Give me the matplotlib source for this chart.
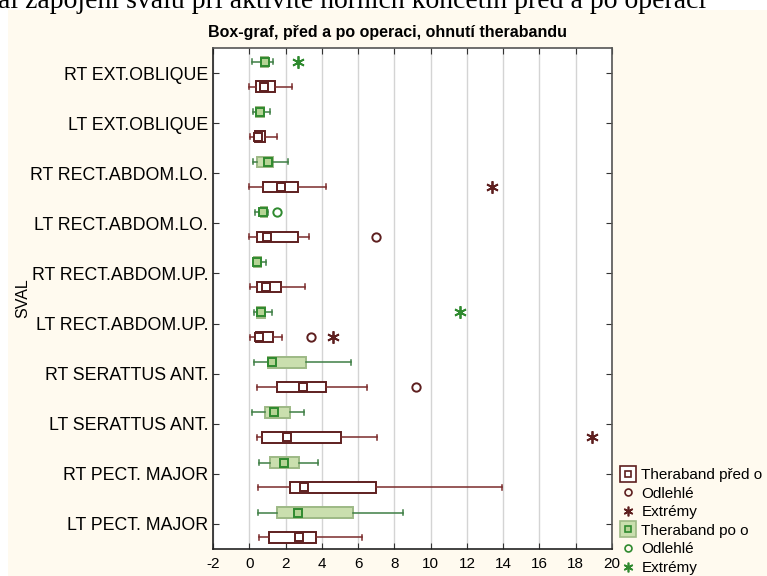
import numpy as np
import matplotlib
matplotlib.use("Agg")
from matplotlib import pyplot as plt
from matplotlib.lines import Line2D
from matplotlib.patches import Rectangle
from matplotlib.legend_handler import HandlerTuple

# muscles, listed top to bottom
muscles = ["RT EXT.OBLIQUE", "LT EXT.OBLIQUE", "RT RECT.ABDOM.LO.", "LT RECT.ABDOM.LO.",
           "RT RECT.ABDOM.UP.", "LT RECT.ABDOM.UP.", "RT SERATTUS ANT.", "LT SERATTUS ANT.",
           "RT PECT. MAJOR", "LT PECT. MAJOR"]

# Theraband before the operation: non-outlier min, lower quartile, median, upper quartile, non-outlier max
before_min = [0.00, 0.04, 0.00, 0.00, 0.04, 0.04, 0.41, 0.41, 0.46, 0.53]
before_q1 = [0.39, 0.30, 0.74, 0.41, 0.44, 0.37, 1.54, 0.68, 2.22, 1.09]
before_med = [0.83, 0.46, 1.73, 0.99, 0.90, 0.55, 2.94, 2.06, 3.03, 2.74]
before_q3 = [1.43, 0.88, 2.67, 2.67, 1.73, 1.32, 4.23, 5.04, 7.00, 3.68]
before_max = [2.37, 1.54, 4.23, 3.27, 3.07, 1.78, 6.47, 7.02, 13.95, 6.20]
before_outliers = [(3, 6.97), (5, 3.40), (6, 9.21)]
before_extremes = [(2, 13.36), (5, 4.63), (7, 18.91)]

# Theraband after the operation
after_min = [0.15, 0.19, 0.19, 0.33, 0.26, 0.26, 0.26, 0.13, 0.53, 0.46]
after_q1 = [0.63, 0.37, 0.41, 0.63, 0.26, 0.41, 1.05, 0.88, 1.16, 1.54]
after_med = [0.87, 0.59, 1.05, 0.77, 0.44, 0.66, 1.27, 1.38, 1.93, 2.68]
after_q3 = [1.05, 0.81, 1.32, 0.96, 0.63, 0.87, 3.13, 2.24, 2.74, 5.73]
after_max = [1.29, 1.16, 2.11, 1.03, 0.92, 1.23, 5.59, 3.03, 3.80, 8.49]
after_outliers = [(3, 1.54)]
after_extremes = [(0, 2.67), (5, 11.62)]

legend_labels = ["Theraband před o", "Odlehlé", "Extrémy", "Theraband po o", "Odlehlé", "Extrémy"]

BROWN = "#5e1f1f"
BROWN_W = "#7a2b2b"
GREEN = "#2f8a2f"
GREEN_W = "#3f7f45"
GREEN_FILL = "#cadfae"
GREEN_EDGE = "#9db985"
CREAM = "#fffaef"
ASTERISK = (6, 2, 0)

plt.rcParams['font.family'] = ['Liberation Sans', 'DejaVu Sans']
plt.rcParams['axes.unicode_minus'] = False


def box_stats(lo, q1, med, q3, hi):
    return [dict(whislo=a, q1=b, med=c, q3=d, whishi=e, fliers=[])
            for a, b, c, d, e in zip(lo, q1, med, q3, hi)]


def draw_group(ax, stats, pos, edge, whisker, face, med_edge, med_face):
    ax.bxp(stats, positions=pos, widths=0.21, capwidths=0.1, orientation='horizontal',
           patch_artist=True, showfliers=False, manage_ticks=False,
           boxprops=dict(facecolor=face, edgecolor=edge, linewidth=1.4),
           whiskerprops=dict(color=whisker, linewidth=1.1),
           capprops=dict(color=whisker, linewidth=1.1),
           medianprops=dict(linewidth=0))
    ax.plot([s['med'] for s in stats], pos, ls='none', marker='s', ms=5.5,
            mfc=med_face, mec=med_edge, mew=1.4, zorder=4)


def draw_points(ax, pts, offset, marker, color, ms, mew):
    if not pts:
        return
    idx, vals = zip(*pts)
    ax.plot(vals, np.array(idx) + offset, ls='none', marker=marker, ms=ms,
            mfc='none', mec=color, mew=mew, zorder=4)


def main():
    fig = plt.figure(figsize=(7.67, 5.76), dpi=100)
    fig.patches.append(Rectangle((8 / 767, 0), 1, 1 - 10 / 576, transform=fig.transFigure,
                                 facecolor=CREAM, edgecolor='none', zorder=-10))
    fig.text(-2 / 767, 1 - 8 / 576, "al zapojení svalů při aktivitě horních končetin před a po operaci",
             family='Liberation Serif', fontsize=20, va='baseline', ha='left')

    ax = fig.add_axes([213 / 767, 1 - 549 / 576, 399 / 767, 501 / 576])
    pos = np.arange(len(muscles))
    off_after, off_before = -0.225, 0.27

    draw_group(ax, box_stats(after_min, after_q1, after_med, after_q3, after_max),
               pos + off_after, GREEN_EDGE, GREEN_W, GREEN_FILL, GREEN, "#b5d494")
    draw_group(ax, box_stats(before_min, before_q1, before_med, before_q3, before_max),
               pos + off_before, BROWN, BROWN_W, 'white', BROWN, 'white')

    draw_points(ax, before_outliers, off_before, 'o', BROWN, 6, 1.4)
    draw_points(ax, before_extremes, off_before, ASTERISK, BROWN, 9, 1.3)
    draw_points(ax, after_outliers, off_after, 'o', GREEN, 6, 1.4)
    draw_points(ax, after_extremes, off_after, ASTERISK, GREEN, 9, 1.3)

    ax.set_xlim(-2, 20)
    ax.set_ylim(len(muscles) - 0.5, -0.5)
    ax.set_xticks(np.arange(-2, 21, 2))
    ax.set_yticks(pos)
    ax.set_yticklabels(muscles, fontsize=12.8)
    ax.tick_params(axis='x', labelsize=11, pad=6)
    ax.tick_params(direction='in', length=4, top=True, right=True, color='#333333')
    ax.xaxis.grid(True, color='#d4d4d4', linewidth=1)
    ax.set_axisbelow(True)
    for side, sp in ax.spines.items():
        sp.set_color('#222222' if side in ('left', 'bottom') else '#555555')
        sp.set_linewidth(1.2)

    ax.set_ylabel("SVAL", fontsize=11.5)
    ax.yaxis.set_label_coords((30 - 213) / 399, 0.5)

    fig.text(388 / 767, 1 - 33 / 576, "Box-graf, před a po operaci, ohnutí therabandu",
             family=['Liberation Sans Narrow', 'Liberation Sans'], fontweight='bold',
             fontsize=11.5, ha='center', va='center')

    def box_handle(face, edge, inner_face, inner_edge):
        return (Line2D([], [], ls='none', marker='s', ms=11, mfc=face, mec=edge, mew=1.2),
                Line2D([], [], ls='none', marker='s', ms=5, mfc=inner_face, mec=inner_edge, mew=1.2))

    handles = [
        box_handle('white', BROWN, 'white', BROWN),
        Line2D([], [], ls='none', marker='o', ms=5, mfc='none', mec=BROWN, mew=1.2),
        Line2D([], [], ls='none', marker=ASTERISK, ms=7, mec=BROWN, mew=1.2),
        box_handle(GREEN_FILL, GREEN_EDGE, "#b5d494", GREEN),
        Line2D([], [], ls='none', marker='o', ms=5, mfc='none', mec=GREEN, mew=1.2),
        Line2D([], [], ls='none', marker=ASTERISK, ms=7, mec=GREEN, mew=1.2),
    ]
    fig.legend(handles, legend_labels, loc='upper left', bbox_to_anchor=(620 / 767, 1 - 468 / 576),
               frameon=False, fontsize=11, handlelength=1.0, handletextpad=0.4,
               labelspacing=0.3, borderpad=0, borderaxespad=0,
               handler_map={tuple: HandlerTuple(ndivide=1)})

    fig.savefig("out.png", dpi=100)


if __name__ == "__main__":
    main()
